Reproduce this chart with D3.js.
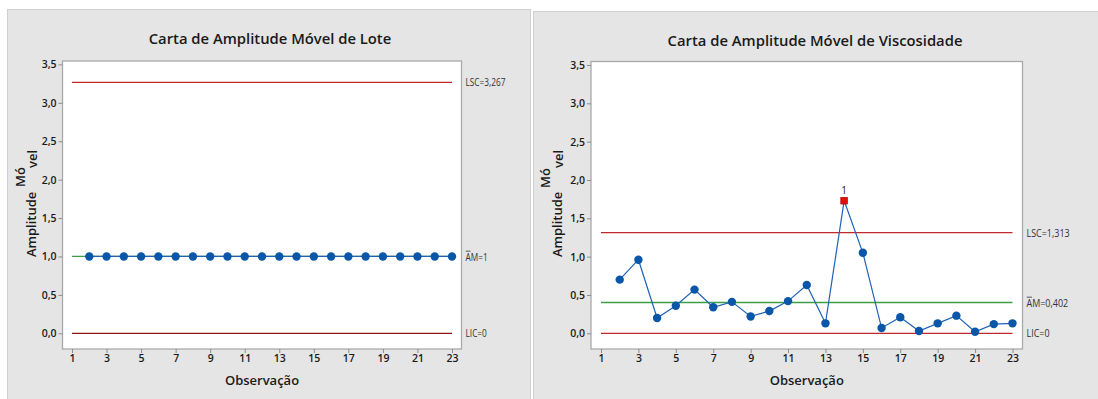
<!DOCTYPE html>
<html lang="pt">
<head>
<meta charset="utf-8">
<script src="https://cdn.jsdelivr.net/npm/d3@7"></script>
<style>
  html, body { margin: 0; padding: 0; background: #ffffff; }
  svg { display: block; }
  text { font-family: "Open Sans", "Noto Sans", sans-serif; fill: #1a1a1a; }
  .lim { fill: #333; }
</style>
</head>
<body>
<svg id="chart" width="1098" height="399"></svg>
<script>
// Observations (moving range starts at the 2nd observation)
const observacoes = [2, 3, 4, 5, 6, 7, 8, 9, 10, 11, 12, 13, 14, 15, 16, 17, 18, 19, 20, 21, 22, 23];

// Moving ranges – lot
const amLote = [1, 1, 1, 1, 1, 1, 1, 1, 1, 1, 1, 1, 1, 1, 1, 1, 1, 1, 1, 1, 1, 1];

// Moving ranges – viscosity
const amViscosidade = [0.70, 0.96, 0.20, 0.36, 0.57, 0.34, 0.41, 0.22, 0.29, 0.42, 0.63,
                       0.13, 1.73, 1.05, 0.07, 0.21, 0.03, 0.13, 0.23, 0.02, 0.12, 0.13];

// Control limits: [LSC, AM-bar, LIC]
const limitesLote = [3.267, 1, 0];
const limitesViscosidade = [1.313, 0.402, 0];

// Observations failing test 1 (viscosity)
const falhasViscosidade = [14];

// Axis ticks
const xTicks = [1, 3, 5, 7, 9, 11, 13, 15, 17, 19, 21, 23];
const yTicks = [0, 0.5, 1, 1.5, 2, 2.5, 3, 3.5];
const xDomain = [1, 23];
const yDomain = [0, 3.5];

const locale = d3.formatLocale({ decimal: ",", thousands: ".", grouping: [3], currency: ["R$", ""] });
const fmtTick = locale.format(".1f");
const fmtLim = v => locale.format("~r")(+v.toFixed(3));

const svg = d3.select("#chart");

function painel(cfg) {
  const g = svg.append("g");

  // panel background
  g.append("rect")
    .attr("x", cfg.panel[0]).attr("y", cfg.panel[1])
    .attr("width", cfg.panel[2]).attr("height", cfg.panel[3])
    .attr("fill", "#e5e5e5").attr("stroke", "#cfcfcf").attr("stroke-width", 1);

  const x = d3.scaleLinear().domain(xDomain).range(cfg.xRange);
  const y = d3.scaleLinear().domain(yDomain).range(cfg.yRange);
  const [fx0, fy0, fx1, fy1] = cfg.frame;

  // plot area
  g.append("rect")
    .attr("x", fx0).attr("y", fy0)
    .attr("width", fx1 - fx0).attr("height", fy1 - fy0)
    .attr("fill", "#ffffff").attr("stroke", "#a9a9a9").attr("stroke-width", 1.3);

  // title
  g.append("text")
    .attr("x", cfg.titleX).attr("y", cfg.titleY)
    .attr("text-anchor", "middle")
    .attr("font-size", 14.8).attr("font-weight", 600)
    .text(cfg.title);

  // axes
  const yAxis = d3.axisLeft(y).tickValues(yTicks).tickFormat(fmtTick).tickSize(4).tickPadding(2);
  const ya = g.append("g").attr("transform", `translate(${fx0},0)`).call(yAxis);
  const xAxis = d3.axisBottom(x).tickValues(xTicks).tickFormat(d3.format("d")).tickSize(4).tickPadding(2);
  const xa = g.append("g").attr("transform", `translate(0,${fy1})`).call(xAxis);
  [ya, xa].forEach(a => {
    a.select(".domain").remove();
    a.selectAll(".tick line").attr("stroke", "#8c8c8c");
    a.selectAll(".tick text").attr("font-size", 10.5).attr("font-weight", 600)
      .attr("font-family", "'Open Sans', sans-serif").attr("fill", "#1a1a1a");
  });

  // x axis title
  g.append("text")
    .attr("x", (fx0 + fx1) / 2).attr("y", cfg.xLabelY)
    .attr("text-anchor", "middle").attr("font-size", 13).attr("font-weight", 600)
    .text("Observação");

  // y axis title (split rendering)
  const yl = cfg.yLabel;
  const rot = (t, px, py, fs) => g.append("text")
    .attr("transform", `translate(${px},${py}) rotate(-90)`)
    .attr("font-size", fs).attr("font-weight", 600).text(t);
  rot("Amplitude", yl[0], yl[1], 13);
  rot("Mó", yl[2], yl[3], 13);
  rot("vel", yl[4], yl[5], 13);

  // control limit lines
  const [lsc, am, lic] = cfg.limites;
  const linhas = [
    { v: lsc, c: "#c0282d", lab: "LSC=" + fmtLim(lsc) },
    { v: am, c: "#3c9e46", lab: "AM=" + fmtLim(am), bar: true },
    { v: lic, c: cfg.licColor, lab: "LIC=" + fmtLim(lic) }
  ];
  linhas.forEach(l => {
    g.append("line")
      .attr("x1", x(xDomain[0])).attr("x2", x(xDomain[1]))
      .attr("y1", y(l.v)).attr("y2", y(l.v))
      .attr("stroke", l.c).attr("stroke-width", 1.3);
    // condensed label next to the frame
    const lg = g.append("g")
      .attr("transform", `translate(${fx1 + 4},${y(l.v)}) scale(${cfg.limScale},1)`);
    const t = lg.append("text").attr("class", "lim")
      .attr("x", 0).attr("y", 0).attr("dy", "0.36em")
      .attr("font-size", 11.5)
      .text(l.lab);
    if (l.bar) {
      // bar over the "A" of AM
      const wA = t.node().getSubStringLength(0, 1);
      lg.append("line")
        .attr("x1", 0.3).attr("x2", wA - 0.3)
        .attr("y1", -5.3).attr("y2", -5.3)
        .attr("stroke", "#333").attr("stroke-width", 0.9);
    }
  });

  // moving range series
  const pts = cfg.obs.map((o, i) => ({ o, v: cfg.vals[i] }));
  g.append("path")
    .datum(pts)
    .attr("fill", "none").attr("stroke", "#1f62b4").attr("stroke-width", 1.2)
    .attr("d", d3.line().x(d => x(d.o)).y(d => y(d.v)));

  const falhas = cfg.falhas || [];
  g.selectAll("circle.pt")
    .data(pts.filter(d => !falhas.includes(d.o)))
    .join("circle").attr("class", "pt")
    .attr("cx", d => x(d.o)).attr("cy", d => y(d.v)).attr("r", 4.2)
    .attr("fill", "#0a56a8");

  const bad = pts.filter(d => falhas.includes(d.o));
  g.selectAll("rect.fail")
    .data(bad).join("rect").attr("class", "fail")
    .attr("x", d => x(d.o) - 3.4).attr("y", d => y(d.v) - 3.4)
    .attr("width", 6.8).attr("height", 6.8)
    .attr("fill", "#e00d0d").attr("stroke", "#b30000").attr("stroke-width", 0.6);
  g.selectAll("text.fail")
    .data(bad).join("text").attr("class", "fail")
    .attr("x", d => x(d.o)).attr("y", d => y(d.v) - 7)
    .attr("text-anchor", "middle").attr("font-size", 10).attr("fill", "#333")
    .text("1");
}

painel({
  panel: [7.5, 9.5, 523, 400],
  frame: [62.5, 61, 461.5, 349],
  xRange: [72, 452],
  yRange: [333.3, 64.4],
  title: "Carta de Amplitude Móvel de Lote",
  titleX: 270, titleY: 44,
  xLabelY: 385,
  yLabel: [36, 257, 24.5, 187, 36.5, 168],
  limites: limitesLote,
  licColor: "#8e1616",
  limScale: 0.72,
  obs: observacoes, vals: amLote
});

painel({
  panel: [533.5, 11.5, 570, 400],
  frame: [591, 61.5, 1022.5, 349],
  xRange: [601, 1012.5],
  yRange: [333.3, 65],
  title: "Carta de Amplitude Móvel de Viscosidade",
  titleX: 815, titleY: 46,
  xLabelY: 385,
  yLabel: [562, 257, 550, 188, 563, 168],
  limites: limitesViscosidade,
  licColor: "#c0282d",
  limScale: 0.78,
  obs: observacoes, vals: amViscosidade,
  falhas: falhasViscosidade
});
</script>
</body>
</html>
